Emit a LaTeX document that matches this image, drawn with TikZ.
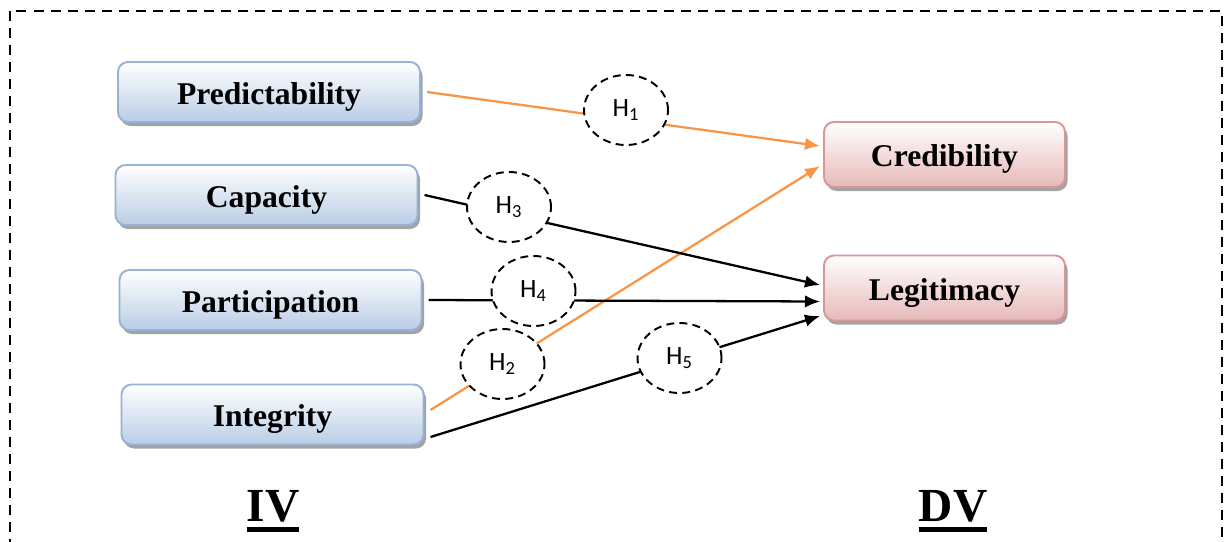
\documentclass[tikz,border=0pt]{standalone}
\usepackage{fontspec}
\setmainfont{Liberation Serif}
\newfontfamily\hypfont{Carlito}
\usetikzlibrary{arrows.meta}
\usetikzlibrary{shapes.geometric,shadows,backgrounds}

\definecolor{ivfill}{HTML}{B9CDE5}
\definecolor{ivline}{HTML}{95B3D7}
\definecolor{dvfill}{HTML}{E6B9B8}
\definecolor{dvline}{HTML}{D99694}
\definecolor{hyporange}{HTML}{F79646}

% thick rule under the group labels
\newcommand{\thickul}[1]{\setbox0\hbox{#1}\vtop{\copy0\kern3pt\hrule width\wd0 height 2.6pt}}

\begin{document}
\begin{tikzpicture}[scale=1,
  ivbox/.style={rectangle, rounded corners=0.2cm, draw=ivline, line width=1.1pt,
    top color=white, bottom color=ivfill, minimum width=6.04cm, minimum height=1.2cm,
    font=\fontsize{18}{20}\selectfont\bfseries, text height=17.5pt, text depth=3.6pt,
    outer xsep=0.14cm,
    drop shadow={shadow xshift=0.05cm, shadow yshift=-0.08cm, fill=black!60, opacity=0.6}},
  dvbox/.style={ivbox, draw=dvline, bottom color=dvfill, minimum width=4.82cm,
    minimum height=1.3cm, outer xsep=0.08cm},
  hyp/.style={ellipse, draw, fill=white, line width=1.1pt, dash pattern=on 4.5pt off 3pt,
    minimum width=1.68cm, minimum height=1.4cm, inner sep=0pt,
    font=\hypfont\fontsize{15}{17}\selectfont},
  link/.style={line width=1.3pt, -{Latex[length=0.3cm, width=0.25cm]}},
  group/.style={font=\fontsize{27}{30}\selectfont\bfseries}]

  \useasboundingbox (0,0) rectangle (24.5,-10.82);
  \draw[line width=1.1pt, dash pattern=on 5.7pt off 4pt] (0.2,-0.22) rectangle (24.44,-11.6);

  % independent variables
  \node[ivbox] (pred) at (5.38,-1.84) {Predictability};
  \node[ivbox] (cap)  at (5.33,-3.90) {Capacity};
  \node[ivbox] (part) at (5.41,-6.00) {Participation};
  \node[ivbox] (integ) at (5.45,-8.29) {Integrity};

  % dependent variables
  \node[dvbox] (cred)  at (18.89,-3.09) {Credibility};
  \node[dvbox] (legit) at (18.89,-5.76) {Legitimacy};

  % hypotheses
  \node[hyp] (h1) at (12.52,-2.20) {H\textsubscript{1}};
  \node[hyp] (h3) at (10.18,-4.14) {H\textsubscript{3}};
  \node[hyp] (h4) at (10.67,-5.82) {H\textsubscript{4}};
  \node[hyp] (h2) at (10.05,-7.28) {H\textsubscript{2}};
  \node[hyp] (h5) at (13.59,-7.16) {H\textsubscript{5}};

  \begin{scope}[on background layer]
    \draw[link, hyporange] (pred.east) -- ([yshift=0.17cm]cred.west);
    \draw[link, hyporange] ([yshift=0.09cm]integ.east) -- ([yshift=-0.23cm]cred.west);
    \draw[link] (cap.east) -- ([yshift=0.06cm]legit.west);
    \draw[link] (part.east) -- ([yshift=-0.27cm]legit.west);
    \draw[link] ([yshift=-0.45cm]integ.east) -- ([yshift=-0.56cm]legit.west);
  \end{scope}

  \node[group] (iv) at (5.46,-10.22) {\thickul{IV}};
  \node[group] (dv) at (19.06,-10.22) {\thickul{DV}};

\end{tikzpicture}
\end{document}
